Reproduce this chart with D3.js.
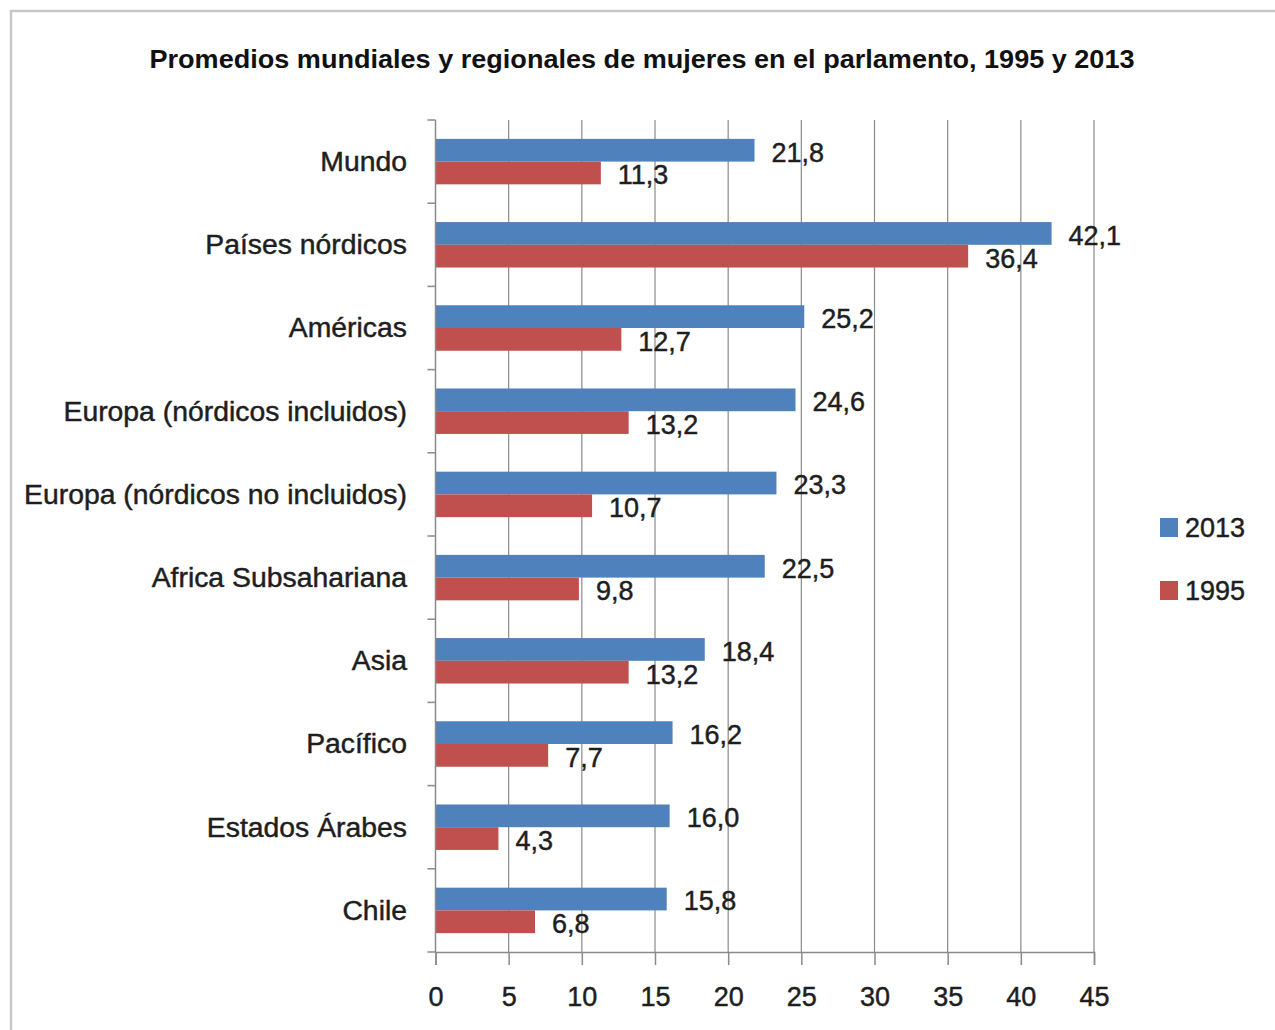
<!DOCTYPE html>
<html><head><meta charset="utf-8">
<script src="https://cdn.jsdelivr.net/npm/d3@7"></script>
<style>body{margin:0;background:#fff}svg{display:block}</style>
</head><body>
<script>
const title = "Promedios mundiales y regionales de mujeres en el parlamento, 1995 y 2013";
const categories = ["Mundo","Países nórdicos","Américas","Europa (nórdicos incluidos)","Europa (nórdicos no incluidos)","Africa Subsahariana","Asia","Pacífico","Estados Árabes","Chile"];
const values2013 = [21.8,42.1,25.2,24.6,23.3,22.5,18.4,16.2,16.0,15.8];
const values1995 = [11.3,36.4,12.7,13.2,10.7,9.8,13.2,7.7,4.3,6.8];
const seriesNames = ["2013","1995"];
const seriesColors = ["#4F81BD","#C0504D"];
const xTicks = [0,5,10,15,20,25,30,35,40,45];

const W=1275,H=1030;
const FONT="'Liberation Sans', Arial, sans-serif";
const FS=27, TXT="#1e1e1e";
const svg=d3.select("body").append("svg").attr("width",W).attr("height",H);
svg.append("rect").attr("width",W).attr("height",H).attr("fill","#fff");
svg.append("rect").attr("x",11).attr("y",11).attr("width",W).attr("height",H+20)
  .attr("fill","none").attr("stroke","#c8c8c8").attr("stroke-width",2.5);

function styleText(sel){
  sel.attr("font-family",FONT).attr("font-size",FS).attr("fill",TXT)
     .attr("stroke",TXT).attr("stroke-width",0.45);
}

const x=d3.scaleLinear().domain([0,45]).range([435.5,1094]);
const y=d3.scaleBand().domain(categories).range([120,952]).paddingInner(0).paddingOuter(0);
const ys=d3.scaleBand().domain(seriesNames).range([0,y.bandwidth()]).paddingInner(0).paddingOuter(0.83);

// gridlines
svg.append("g").selectAll("line").data(xTicks.filter(d=>d>0)).join("line")
  .attr("x1",d=>x(d)).attr("x2",d=>x(d)).attr("y1",120).attr("y2",952)
  .attr("stroke","#8a8a8a").attr("stroke-width",1.2);

const data = categories.map((c,i)=>({cat:c, vals:[{s:"2013",v:values2013[i]},{s:"1995",v:values1995[i]}]}));
const g=svg.append("g");
const grp=g.selectAll("g").data(data).join("g").attr("transform",d=>`translate(0,${y(d.cat)})`);
grp.selectAll("rect").data(d=>d.vals).join("rect")
  .attr("x",x(0)).attr("y",d=>ys(d.s)).attr("height",ys.bandwidth())
  .attr("width",d=>x(d.v)-x(0))
  .attr("fill",d=>seriesColors[seriesNames.indexOf(d.s)]);
grp.selectAll("text").data(d=>d.vals).join("text")
  .attr("x",d=>x(d.v)+17).attr("y",d=>ys(d.s)+ys.bandwidth()/2+2).attr("dy","0.35em")
  .call(styleText)
  .text(d=>d.v.toFixed(1).replace(".",","));

// y axis
const yAxis=svg.append("g");
yAxis.append("line").attr("x1",x(0)).attr("x2",x(0)).attr("y1",120).attr("y2",952).attr("stroke","#8a8a8a").attr("stroke-width",1.5);
const bounds=categories.map(c=>y(c)).concat([952]);
yAxis.selectAll("line.t").data(bounds).join("line").attr("class","t")
  .attr("x1",x(0)-8).attr("x2",x(0)).attr("y1",d=>d).attr("y2",d=>d).attr("stroke","#8a8a8a").attr("stroke-width",1.5);
yAxis.selectAll("text").data(categories).join("text")
  .attr("x",407).attr("y",d=>y(d)+y.bandwidth()/2).attr("dy","0.35em").attr("text-anchor","end")
  .call(styleText).text(d=>d)
  .each(function(){
    const w=this.getComputedTextLength();
    d3.select(this).attr("textLength",w*1.05).attr("lengthAdjust","spacingAndGlyphs");
  });

// x axis
const xAxis=svg.append("g").attr("transform","translate(0,952)")
  .call(d3.axisBottom(x).tickValues(xTicks).tickSize(13).tickPadding(22).tickFormat(d3.format("d")));
xAxis.select(".domain").attr("stroke","#8a8a8a").attr("stroke-width",1.5);
xAxis.selectAll(".tick line").attr("stroke","#8a8a8a").attr("stroke-width",1.5);
xAxis.selectAll("text").call(styleText);

// title
svg.append("text").attr("x",642).attr("y",68).attr("text-anchor","middle")
  .attr("font-family",FONT).attr("font-size",25).attr("font-weight","bold").attr("fill","#111")
  .attr("textLength",985).attr("lengthAdjust","spacingAndGlyphs").text(title);

// legend
const lg=svg.append("g");
const ly=[528,591];
seriesNames.forEach((s,i)=>{
  lg.append("rect").attr("x",1160).attr("y",ly[i]-10).attr("width",18).attr("height",19).attr("fill",seriesColors[i]);
  lg.append("text").attr("x",1185).attr("y",ly[i]).attr("dy","0.35em").call(styleText).text(s);
});
</script>
</body></html>
